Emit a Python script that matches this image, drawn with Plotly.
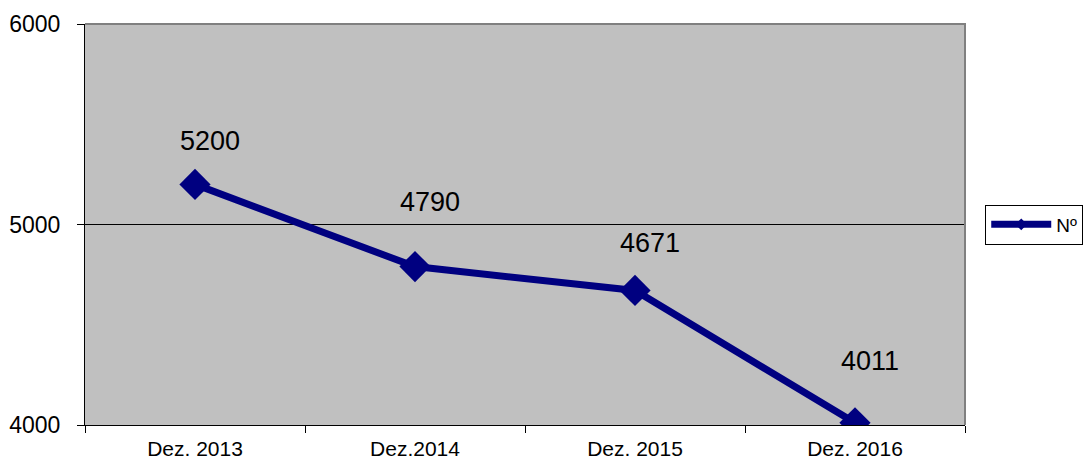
import plotly.graph_objects as go

categories = ["Dez. 2013", "Dez.2014", "Dez. 2015", "Dez. 2016"]
values = [5200, 4790, 4671, 4011]
series_name = "Nº"
y_ticks = [4000, 5000, 6000]

# label placement offsets (pixels) as positioned in the original chart
label_yshift = [43, 65, 47, 62]
label_xshift = 15

navy = "#000080"
font_family = "Liberation Sans, Arial, sans-serif"

fig = go.Figure()
fig.add_trace(go.Scatter(
    x=categories, y=values, mode="lines+markers", name=series_name,
    line=dict(color=navy, width=7),
    marker=dict(symbol="diamond", size=24, color=navy),
    showlegend=False,
))
# legend entry (small marker, as in the original legend)
fig.add_trace(go.Scatter(
    x=[None], y=[None], mode="lines+markers", name=series_name,
    line=dict(color=navy, width=7),
    marker=dict(symbol="diamond", size=9, color=navy),
))

for c, v, ys in zip(categories, values, label_yshift):
    fig.add_annotation(x=c, y=v, text=str(v), showarrow=False,
                       xshift=label_xshift, yshift=ys,
                       font=dict(size=27, color="black", family=font_family))

# top and right border in gray
fig.add_shape(type="path", xref="paper", yref="paper",
              path="M 0 1 L 1 1 L 1 0", line=dict(color="#808080", width=2), layer="above")

fig.update_layout(
    width=1083, height=459,
    margin=dict(l=85, r=118, t=24, b=34, autoexpand=False),
    paper_bgcolor="white", plot_bgcolor="#C0C0C0",
    font=dict(family=font_family, color="black"),
    showlegend=True,
    legend=dict(x=1.023, y=0.5, xanchor="left", yanchor="middle",
                bordercolor="black", borderwidth=1, bgcolor="white",
                font=dict(size=19), itemwidth=60),
    xaxis=dict(type="category", range=[-0.5, 3.5], showgrid=False, automargin=False,
               tickson="boundaries", ticks="outside", ticklen=7, tickcolor="black",
               showline=True, linecolor="black", linewidth=1,
               tickfont=dict(size=21), ticklabelstandoff=5),
    yaxis=dict(range=[4000, 6000], tickvals=y_ticks, showgrid=True, automargin=False,
               gridcolor="black", gridwidth=1, zeroline=False,
               ticks="outside", ticklen=7, tickcolor="black",
               showline=True, linecolor="black", linewidth=1,
               tickfont=dict(size=23), ticklabelstandoff=12),
)

fig.write_html("out.html", config={"displayModeBar": False},
               post_script="document.body.style.margin='0';")
